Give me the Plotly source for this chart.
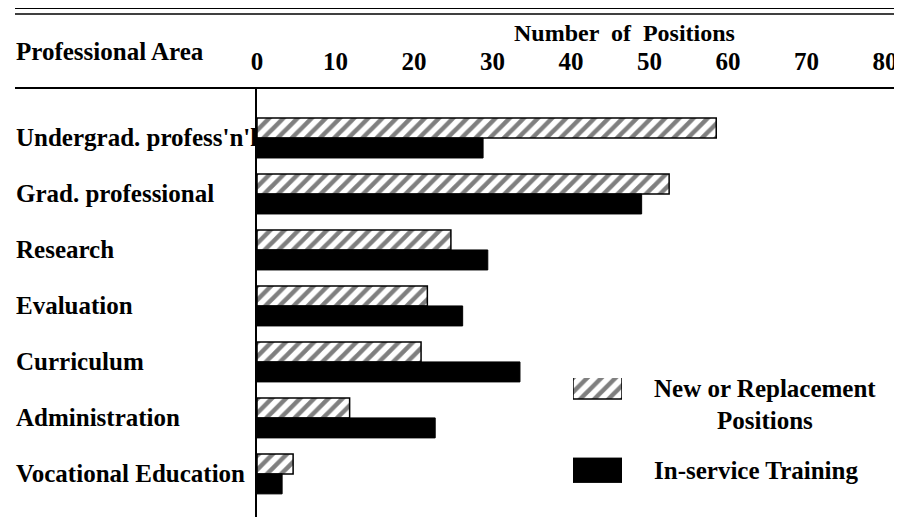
import plotly.graph_objects as go

categories = ["Undergrad. profess'n'l", "Grad. professional", "Research", "Evaluation",
              "Curriculum", "Administration", "Vocational Education"]
new_positions = [58.5, 52.5, 24.7, 21.7, 20.9, 11.8, 4.6]
inservice = [28.8, 49.0, 29.4, 26.2, 33.5, 22.7, 3.2]
series_names = ["New or Replacement<br>Positions", "In-service Training"]
tick_vals = [0, 10, 20, 30, 40, 50, 60, 70, 80]
tick_text = ["0", "10", "20", "30", "40", "50", "60", "70", "80"]

OFF = 8  # page body margin
W, H = 902 - OFF, 517 - OFF
# plot area in reference pixels: x 257..885, y 88..517
L, R, T, B = 257 - OFF, 902 - 885, 88 - OFF, 0
PW, PH = W - L - R, H - T - B
FONT = "Liberation Serif"


def px_x(p):
    return (p - OFF - L) / PW


def px_y(p):
    return (H - B - (p - OFF)) / PH


def fnt(size=25):
    return dict(family=FONT, size=size, color="black", weight="bold")


hatch = dict(shape="/", fgcolor="black", bgcolor="white", size=10, solidity=0.45)

fig = go.Figure()
fig.add_trace(go.Bar(
    y=categories, x=new_positions, orientation="h", name=series_names[0],
    marker=dict(color="white", line=dict(color="black", width=1.5), pattern=hatch),
    showlegend=False,
))
fig.add_trace(go.Bar(
    y=categories, x=inservice, orientation="h", name=series_names[1],
    marker=dict(color="black", line=dict(color="black", width=1)),
    showlegend=False,
))

# legend patches on a small auxiliary axis
fig.add_trace(go.Bar(
    y=[0], x=[1], orientation="h", xaxis="x2", yaxis="y2", width=0.27,
    marker=dict(color="white", line=dict(color="black", width=1.5), pattern=hatch),
    showlegend=False, hoverinfo="skip",
))
fig.add_trace(go.Bar(
    y=[1], x=[1], orientation="h", xaxis="x2", yaxis="y2", width=0.3,
    marker=dict(color="black", line=dict(color="black", width=1)),
    showlegend=False, hoverinfo="skip",
))

annotations = []
for c in categories:
    annotations.append(dict(x=px_x(14), xref="paper", y=c, yref="y", text=c,
                            showarrow=False, xanchor="left", yanchor="middle", font=fnt()))
annotations.append(dict(x=px_x(14), xref="paper", y=px_y(52), yref="paper", text="Professional Area",
                        showarrow=False, xanchor="left", yanchor="middle", font=fnt()))
annotations.append(dict(x=px_x(624), xref="paper", y=px_y(33), yref="paper", text="Number  of  Positions",
                        showarrow=False, xanchor="center", yanchor="middle", font=fnt(24)))
leg1 = series_names[0].split("<br>")
annotations.append(dict(x=px_x(765), xref="paper", y=px_y(388), yref="paper", text=leg1[0],
                        showarrow=False, xanchor="center", yanchor="middle", font=fnt()))
annotations.append(dict(x=px_x(765), xref="paper", y=px_y(420), yref="paper", text=leg1[1],
                        showarrow=False, xanchor="center", yanchor="middle", font=fnt()))
annotations.append(dict(x=px_x(652), xref="paper", y=px_y(470), yref="paper", text=series_names[1],
                        showarrow=False, xanchor="left", yanchor="middle", font=fnt()))

shapes = [
    dict(type="line", xref="paper", yref="paper", x0=px_x(15), x1=px_x(902), y0=px_y(88), y1=px_y(88),
         line=dict(color="black", width=2)),
    dict(type="line", xref="paper", yref="paper", x0=px_x(15), x1=px_x(902), y0=px_y(8), y1=px_y(8),
         line=dict(color="black", width=2)),
    dict(type="line", xref="paper", yref="paper", x0=px_x(15), x1=px_x(902), y0=px_y(14), y1=px_y(14),
         line=dict(color="black", width=1.5)),
]

fig.update_layout(
    width=W, height=H, margin=dict(l=L, r=R, t=T, b=B, pad=0),
    paper_bgcolor="white", plot_bgcolor="white",
    barmode="group", bargap=0.286, bargroupgap=0,
    font=fnt(),
    xaxis=dict(range=[0, 80], side="top", tickvals=tick_vals, ticktext=tick_text,
               showgrid=False, zeroline=False, showline=False, ticks="",
               ticklabelstandoff=12, tickfont=fnt(25)),
    yaxis=dict(type="category", categoryorder="array", categoryarray=categories,
               range=[6.77, -0.893], showticklabels=False, showgrid=False, zeroline=False,
               showline=True, linecolor="black", linewidth=2, ticks=""),
    xaxis2=dict(domain=[px_x(573), px_x(622)], range=[0, 1], visible=False, anchor="y2"),
    yaxis2=dict(domain=[px_y(483), px_y(378)], range=[1.152, -0.121], visible=False, anchor="x2"),
    annotations=annotations, shapes=shapes,
)

fig.write_html("out.html")
